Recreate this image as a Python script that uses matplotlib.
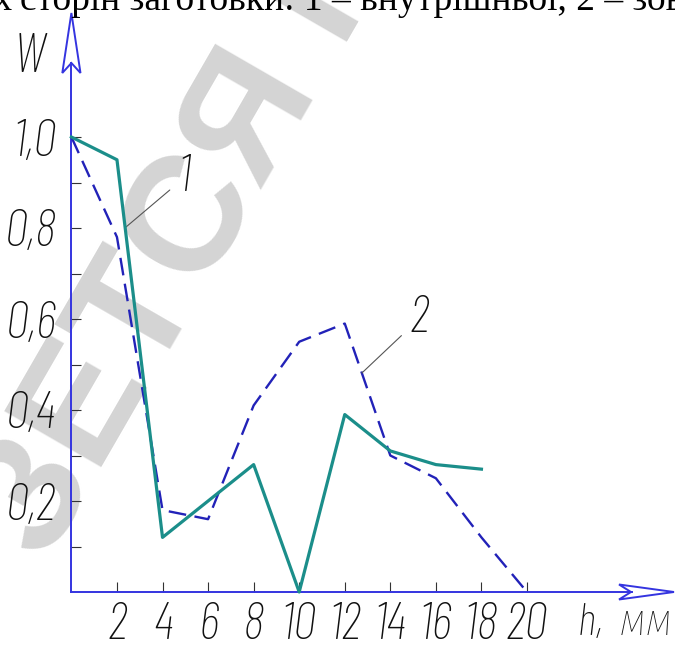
import numpy as np
import matplotlib
matplotlib.use("Agg")
import matplotlib.pyplot as plt
from matplotlib.patches import Polygon

# ---------------------------------------------------------------------------
# Data: relative value W against depth h (mm)
# ---------------------------------------------------------------------------
h_inner = [0, 2, 4, 6, 8, 10, 12, 14, 16, 18]
w_inner = [1.0, 0.95, 0.12, 0.20, 0.28, 0.0, 0.39, 0.31, 0.28, 0.27]

h_outer = [0, 2, 4, 6, 8, 10, 12, 14, 16, 18, 20]
w_outer = [1.0, 0.78, 0.18, 0.16, 0.41, 0.55, 0.59, 0.30, 0.25, 0.12, 0.0]

x_ticks = [2, 4, 6, 8, 10, 12, 14, 16, 18, 20]
y_major = [0.2, 0.4, 0.6, 0.8, 1.0]
y_labels = ["0,2", "0,4", "0,6", "0,8", "1,0"]
y_minor = [0.1, 0.3, 0.5, 0.7, 0.9]

# ---------------------------------------------------------------------------
# Frame and style
# ---------------------------------------------------------------------------
W_PX, H_PX, DPI = 675, 649, 100
X0_PX, MM_PX = 71.4, 22.78      # pixel column of h=0, pixels per mm
Y0_PX, UNIT_PX = 592.0, 455.0   # pixel row of W=0, pixels per unit W

AXIS_BLUE = "#3434e0"
TEAL = "#1b8e8a"
DASH_BLUE = "#2222b8"
TICK_GREY = "#333333"
WATERMARK = "#d4d4d4"
INK = "#111111"

# narrow drafting-style lettering; the Fira/Roboto faces cover Cyrillic
DRAFT = ["Barlow Condensed", "Fira Sans Condensed", "Roboto Condensed",
         "Liberation Sans"]
STRETCH = "condensed"
WEIGHT = "light"
SERIF = ["Liberation Serif", "DejaVu Serif"]


def px_x(p):
    return (p - X0_PX) / MM_PX


def px_y(p):
    return (Y0_PX - p) / UNIT_PX


def draft(size):
    return dict(family=DRAFT, stretch=STRETCH, weight=WEIGHT, style="italic",
                fontsize=size, color=INK)


fig = plt.figure(figsize=(W_PX / DPI, H_PX / DPI), dpi=DPI)
fig.patch.set_facecolor("white")
ax = fig.add_axes([0, 0, 1, 1])
ax.patch.set_visible(False)
ax.set_xlim(px_x(0), px_x(W_PX))
ax.set_ylim(px_y(H_PX), px_y(0))

# caption line running off the top edge
fig.text(20 / W_PX, 1 - 10 / H_PX,
         "сторін заготовки: 1 – внутрішньої, 2 – зовнішньої",
         family=SERIF, fontsize=27, ha="left", va="baseline", color="black")
fig.text(13 / W_PX, 1 - 10 / H_PX, "обох",
         family=SERIF, fontsize=27, ha="right", va="baseline", color="black")

# diagonal watermark behind the plot
ax.text(px_x(45), px_y(565), "ЗЕТСЯ П", rotation=60, rotation_mode="anchor",
        ha="left", va="baseline", fontsize=118, weight="bold", color=WATERMARK,
        family=["Liberation Sans", "DejaVu Sans"], zorder=0.5, clip_on=False)

# axes through the origin
for side in ("top", "right"):
    ax.spines[side].set_visible(False)
ax.spines["left"].set_position(("data", 0))
ax.spines["bottom"].set_position(("data", 0))
ax.spines["left"].set_bounds(0, px_y(63))
ax.spines["bottom"].set_bounds(0, px_x(632))
for side in ("left", "bottom"):
    ax.spines[side].set_color(AXIS_BLUE)
    ax.spines[side].set_linewidth(1.4)

# open arrowheads on both axes
y_head = [(71.4, 13), (80.5, 73), (71.4, 63), (62.3, 73)]
x_head = [(674, 592), (619, 584.5), (631, 592), (619, 599.5)]
for head in (y_head, x_head):
    pts = [(px_x(a), px_y(b)) for a, b in head]
    ax.add_patch(Polygon(pts, closed=True, fill=False, edgecolor=AXIS_BLUE,
                         linewidth=1.4, joinstyle="miter", clip_on=False))

ax.set_xticks(x_ticks, labels=[str(v) for v in x_ticks])
ax.set_yticks(y_major, labels=y_labels)
ax.set_yticks(y_minor, minor=True)
ax.tick_params(axis="both", which="both", direction="in", length=7.5,
               width=0.8, color=TICK_GREY)
ax.tick_params(axis="x", pad=7)
ax.tick_params(axis="y", pad=11)
for lab in ax.get_xticklabels() + ax.get_yticklabels():
    lab.set(**draft(38))

# curves
ax.plot(h_outer, w_outer, color=DASH_BLUE, linewidth=1.7,
        dashes=(7.5, 3.6), zorder=3)
ax.plot(h_inner, w_inner, color=TEAL, linewidth=2.3, zorder=4)

# callout numbers with leader lines
lead1 = (2.36, float(np.interp(2.36, h_inner, w_inner)))
lead2 = (12.75, float(np.interp(12.75, h_outer, w_outer)))
leader = dict(arrowstyle="-", color="#555555", lw=0.8, shrinkA=5, shrinkB=0)
ax.annotate("1", xy=lead1, xytext=(px_x(184), px_y(178)),
            ha="center", va="center", arrowprops=leader, **draft(38))
ax.annotate("2", xy=lead2, xytext=(px_x(419), px_y(319)),
            ha="center", va="center", arrowprops=leader, **draft(38))

# axis names
ax.text(px_x(29), px_y(58), "W", ha="center", va="center", **draft(40))
ax.text(px_x(672), px_y(623), "h,  мм", ha="right", va="center", **draft(32))

fig.savefig("out.png", dpi=DPI, facecolor="white")
